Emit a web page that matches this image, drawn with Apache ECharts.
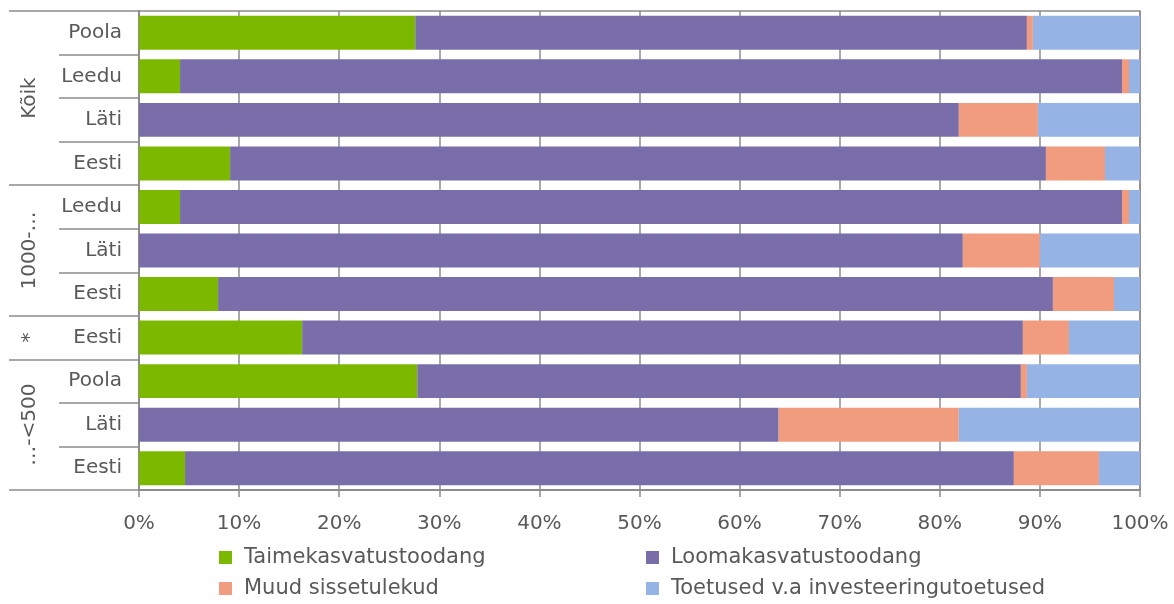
<!DOCTYPE html>
<html>
<head>
<meta charset="utf-8">
<script src="https://cdn.jsdelivr.net/npm/echarts@6/dist/echarts.min.js"></script>
<style>
  html, body { margin: 0; padding: 0; background: #fff; }
  #chart { width: 1174px; height: 604px; }
</style>
</head>
<body>
<div id="chart"></div>
<script>
// Rows, top to bottom
const rowLabels = ['Poola', 'Leedu', 'Läti', 'Eesti', 'Leedu', 'Läti', 'Eesti', 'Eesti', 'Poola', 'Läti', 'Eesti'];
// Size-class groups on the outer axis level (name, number of rows)
const groupNames = ['Kõik', '1000-…', '*', '…-<500'];
const groupSizes = [4, 3, 1, 3];

// Shares of total output, %
const taimekasvatus = [27.6, 4.1, 0, 9.1, 4.1, 0, 7.9, 16.3, 27.8, 0, 4.6];
const loomakasvatus = [61.1, 94.1, 81.9, 81.5, 94.1, 82.3, 83.4, 72.0, 60.3, 63.9, 82.8];
const muud = [0.6, 0.7, 7.9, 5.9, 0.7, 7.7, 6.1, 4.6, 0.6, 18.0, 8.5];
const toetused = [10.7, 1.1, 10.2, 3.5, 1.1, 10.0, 2.6, 7.1, 11.3, 18.1, 4.1];

const seriesNames = ['Taimekasvatustoodang', 'Loomakasvatustoodang', 'Muud sissetulekud', 'Toetused v.a investeeringutoetused'];
const seriesColors = ['#7cb800', '#796eaa', '#f19c7f', '#96b3e6'];

const FONT = 'DejaVu Sans';
const TEXT = '#595959';
const LINE = '#8c8c8c';

// index of the first row of each group
const groupStarts = [];
groupSizes.reduce((acc, n) => { groupStarts.push(acc); return acc + n; }, 0);

const rowKeys = rowLabels.map((_, i) => String(i));

const chart = echarts.init(document.getElementById('chart'), null, { renderer: 'canvas' });

const legendCommon = {
  orient: 'vertical',
  top: 547,
  padding: 0,
  itemWidth: 13,
  itemHeight: 13,
  itemGap: 10,
  icon: 'rect',
  selectedMode: false,
  textStyle: { fontFamily: FONT, fontSize: 21, color: TEXT, lineHeight: 21, padding: [0, 0, 0, 7] }
};

chart.setOption({
  animation: false,
  backgroundColor: '#fff',
  grid: { left: 139, right: 34, top: 11, bottom: 114, show: true, borderColor: LINE, borderWidth: 1.5 },
  legend: [
    Object.assign({ left: 219, data: [seriesNames[0], seriesNames[2]] }, legendCommon),
    Object.assign({ left: 646, data: [seriesNames[1], seriesNames[3]] }, legendCommon)
  ],
  xAxis: {
    type: 'value',
    min: 0, max: 100, interval: 10,
    axisLine: { show: true, lineStyle: { color: LINE, width: 2 } },
    axisTick: { show: true, length: 7, lineStyle: { color: LINE, width: 1.5 } },
    splitLine: { show: true, lineStyle: { color: LINE, width: 1.5 } },
    axisLabel: { formatter: '{value}%', fontFamily: FONT, fontSize: 20, color: TEXT, margin: 24 }
  },
  yAxis: [
    {
      type: 'category',
      inverse: true,
      data: rowKeys,
      axisLine: { show: true, lineStyle: { color: LINE, width: 2 } },
      axisTick: { show: true, length: 80, interval: 0, lineStyle: { color: LINE, width: 1.5 } },
      axisLabel: {
        interval: 0,
        margin: 17,
        fontFamily: FONT, fontSize: 20, color: TEXT,
        formatter: (v) => rowLabels[+v]
      },
      splitLine: { show: false }
    },
    {
      type: 'category',
      inverse: true,
      position: 'left',
      data: rowKeys,
      axisLine: { show: false },
      axisLabel: { show: false },
      axisTick: {
        show: true, length: 130,
        interval: (idx) => groupStarts.indexOf(idx) >= 0,
        lineStyle: { color: LINE, width: 1.5 }
      },
      splitLine: { show: false }
    }
  ],
  series: [taimekasvatus, loomakasvatus, muud, toetused].map((vals, k) => ({
    name: seriesNames[k],
    type: 'bar',
    stack: 'total',
    barCategoryGap: '22%',
    itemStyle: { color: seriesColors[k] },
    data: vals
  }))
});

// Outer-level group labels, centred on their rows and written bottom-to-top
const groupLabels = groupNames.map((name, g) => {
  const first = groupStarts[g];
  const last = first + groupSizes[g] - 1;
  const y0 = chart.convertToPixel({ yAxisIndex: 0 }, String(first));
  const y1 = chart.convertToPixel({ yAxisIndex: 0 }, String(last));
  return {
    type: 'text',
    x: 30,
    y: (y0 + y1) / 2,
    rotation: Math.PI / 2,
    style: {
      text: name,
      fontFamily: FONT, fontSize: 20, fill: TEXT,
      align: 'center', verticalAlign: 'middle'
    }
  };
});
chart.setOption({ graphic: groupLabels });
</script>
</body>
</html>
